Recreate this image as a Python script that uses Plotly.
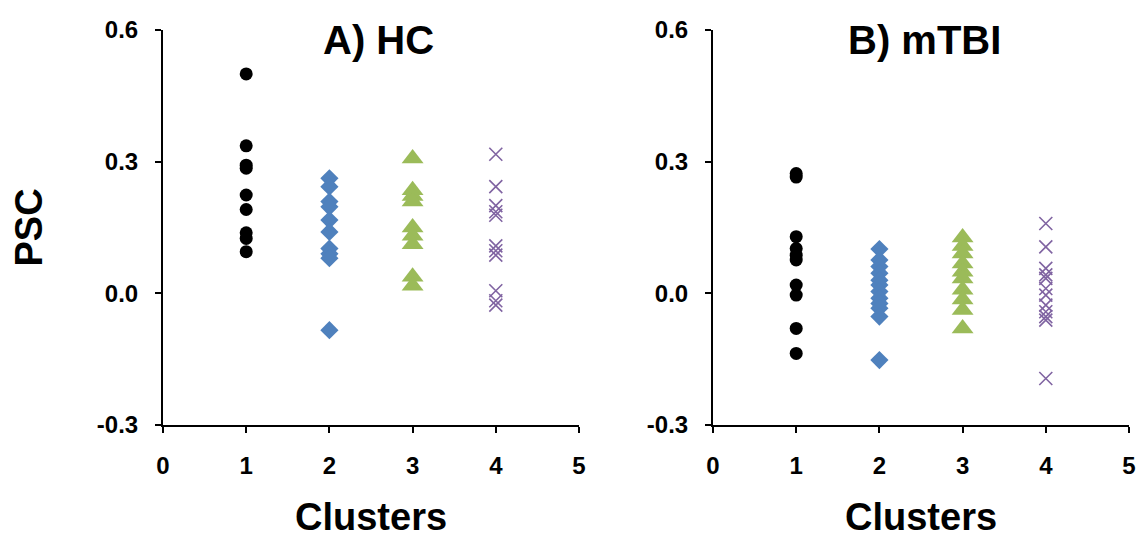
import plotly.graph_objects as go

# ---- data ----
hc_c1 = [0.50, 0.336, 0.292, 0.285, 0.224, 0.191, 0.138, 0.125, 0.095]
hc_c2 = [0.262, 0.243, 0.209, 0.197, 0.167, 0.140, 0.102, 0.090, 0.080, -0.084]
hc_c3 = [0.307, 0.235, 0.222, 0.209, 0.150, 0.131, 0.112, 0.038, 0.017]
hc_c4 = [0.317, 0.243, 0.200, 0.186, 0.178, 0.108, 0.097, 0.087, 0.006, -0.017, -0.027]

tbi_c1 = [0.273, 0.265, 0.129, 0.102, 0.087, 0.076, 0.019, -0.004, -0.080, -0.137]
tbi_c2 = [0.101, 0.076, 0.061, 0.046, 0.030, 0.019, 0.004, -0.011, -0.023, -0.034, -0.053, -0.152]
tbi_c3 = [0.127, 0.108, 0.091, 0.068, 0.049, 0.034, 0.008, -0.014, -0.038, -0.080]
tbi_c4 = [0.159, 0.106, 0.057, 0.042, 0.034, 0.011, -0.004, -0.027, -0.042, -0.053, -0.061, -0.194]

cluster_ids = [1, 2, 3, 4]
panel_titles = ["A) HC", "B) mTBI"]
y_ticks = [-0.3, 0.0, 0.3, 0.6]
y_ticktext = ["-0.3", "0.0", "0.3", "0.6"]
x_ticks = [0, 1, 2, 3, 4, 5]

FONT = "Arial, 'Liberation Sans', sans-serif"
styles = [
    dict(symbol="circle", color="#000000", size=13),
    dict(symbol="diamond", color="#4F81BD", size=14),
    dict(symbol="triangle-up", color="#9BBB59", size=19),
    dict(symbol="x-thin-open", color="#8064A2", size=13),
]

fig = go.Figure()
panels = [(hc_c1, hc_c2, hc_c3, hc_c4), (tbi_c1, tbi_c2, tbi_c3, tbi_c4)]
for p, groups in enumerate(panels):
    xa = "x" if p == 0 else "x2"
    ya = "y" if p == 0 else "y2"
    for cid, vals, st in zip(cluster_ids, groups, styles):
        marker = dict(symbol=st["symbol"], size=st["size"], color=st["color"])
        if st["symbol"] == "x-thin-open":
            marker["line"] = dict(color=st["color"], width=1.6)
        else:
            marker["line"] = dict(width=0)
        fig.add_trace(go.Scatter(
            x=[cid] * len(vals), y=vals, mode="markers", marker=marker,
            xaxis=xa, yaxis=ya, showlegend=False, cliponaxis=False))

# page has an 8px body margin: figure occupies page pixels 8..1147 / 8..540
OFF = 8
W, H = 1147 - OFF, 540 - OFF


def px(xpage):
    return (xpage - OFF) / W


def py(ypage):
    return 1 - (ypage - OFF) / H


xd1 = [px(163), px(579)]
xd2 = [px(713), px(1129)]
yd = [py(425), py(30)]

axis_common = dict(showline=True, linecolor="black", linewidth=2, ticks="outside",
                   ticklen=6, tickwidth=2, tickcolor="black", showgrid=False,
                   zeroline=False, automargin=False,
                   tickfont=dict(family=FONT, size=24, color="black", weight="bold"),
                   ticklabelstandoff=12)

xaxis_opts = dict(range=[0, 5], tickvals=x_ticks, **axis_common)
yaxis_opts = dict(range=[-0.3, 0.6], tickvals=y_ticks, ticktext=y_ticktext, **axis_common)

fig.update_layout(
    width=W, height=H, margin=dict(l=0, r=0, t=0, b=0),
    paper_bgcolor="white", plot_bgcolor="white",
    xaxis=dict(domain=xd1, anchor="y", **xaxis_opts),
    yaxis=dict(domain=yd, anchor="x", **yaxis_opts),
    xaxis2=dict(domain=xd2, anchor="y2", **xaxis_opts),
    yaxis2=dict(domain=yd, anchor="x2", **yaxis_opts),
)

ann = []
for title, cx in zip(panel_titles, [378, 925]):
    ann.append(dict(text="<b>" + title + "</b>", x=px(cx), y=py(40),
                    xref="paper", yref="paper", showarrow=False,
                    xanchor="center", yanchor="middle",
                    font=dict(family=FONT, size=40, color="black")))
for cx in [(xd1[0] + xd1[1]) / 2, (xd2[0] + xd2[1]) / 2]:
    ann.append(dict(text="<b>Clusters</b>", x=cx, y=py(517), xref="paper",
                    yref="paper", showarrow=False, xanchor="center", yanchor="middle",
                    font=dict(family=FONT, size=38, color="black")))
ann.append(dict(text="<b>PSC</b>", x=px(28), y=(yd[0] + yd[1]) / 2, xref="paper",
                yref="paper", showarrow=False, textangle=-90,
                xanchor="center", yanchor="middle",
                font=dict(family=FONT, size=38, color="black")))
fig.update_layout(annotations=ann)

fig.write_html("out.html")
